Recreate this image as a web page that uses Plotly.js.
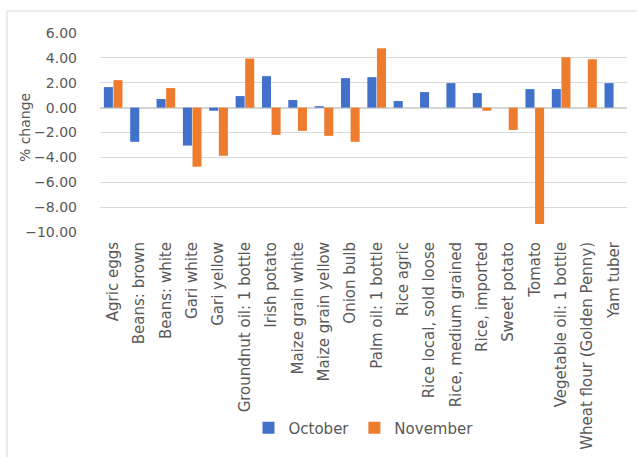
<!DOCTYPE html>
<html>
<head>
<meta charset="utf-8">
<script src="https://cdn.plot.ly/plotly-3.0.1.min.js"></script>
<style>html,body{margin:0;padding:0;background:#fff;}#chart{width:637px;height:457px;}</style>
</head>
<body>
<div id="chart"></div>
<script>
const categories = [
  "Agric eggs", "Beans: brown", "Beans: white", "Gari white", "Gari yellow",
  "Groundnut oil: 1 bottle", "Irish potato", "Maize grain white", "Maize grain yellow",
  "Onion bulb", "Palm oil: 1 bottle", "Rice agric", "Rice local, sold loose",
  "Rice, medium grained", "Rice, imported", "Sweet potato", "Tomato",
  "Vegetable oil: 1 bottle", "Wheat flour (Golden Penny)", "Yam tuber"
];
const october = [1.65, -2.75, 0.69, -3.05, -0.25, 0.93, 2.53, 0.61, 0.12, 2.37, 2.45, 0.53, 1.25, 1.97, 1.17, null, 1.49, 1.49, null, 1.97];
const november = [2.21, null, 1.57, -4.75, -3.87, 3.95, -2.19, -1.87, -2.27, -2.75, 4.77, null, null, null, -0.25, -1.8, -9.35, 4.05, 3.89, null];
const seriesNames = ["October", "November"];
const yTicks = [6, 4, 2, 0, -2, -4, -6, -8, -10];
const yTitle = "% change";

const textColor = "#595959";
const font = "DejaVu Sans, sans-serif";

const traces = [
  {type: "bar", name: seriesNames[0], x: categories, y: october, marker: {color: "#4271CC"}},
  {type: "bar", name: seriesNames[1], x: categories, y: november, marker: {color: "#EE7C2E"}}
];

const layout = {
  width: 637, height: 457,
  margin: {l: 100, r: 10, t: 33, b: 225},
  paper_bgcolor: "#ffffff", plot_bgcolor: "#ffffff",
  font: {family: font, color: textColor, size: 14},
  barmode: "group", bargap: 0.27, bargroupgap: 0.06,
  showlegend: true,
  legend: {orientation: "h", x: 0.50, xanchor: "center", y: -0.985, yanchor: "middle",
           font: {size: 15, color: textColor}, itemwidth: 30, traceorder: "normal"},
  xaxis: {type: "category", tickangle: -90, tickfont: {size: 15, color: textColor}, ticklabelstandoff: 6,
          showgrid: false, zeroline: false, showline: false, ticks: "", automargin: false},
  yaxis: {range: [-10, 6], tickvals: yTicks, tickformat: ".2f",
          tickfont: {size: 14, color: textColor}, ticklabelstandoff: 22,
          showgrid: true, gridcolor: "#d9d9d9", gridwidth: 1,
          zeroline: true, zerolinecolor: "#d4d4d4", zerolinewidth: 2,
          showline: false, ticks: "", automargin: false},
  annotations: [
    {text: yTitle, xref: "paper", yref: "paper", x: -0.142, y: 0.523, xanchor: "center", yanchor: "middle",
     textangle: -90, showarrow: false, font: {size: 14, color: textColor}}
  ],
  shapes: [
    {type: "line", xref: "paper", yref: "paper", x0: -0.1765, x1: 1.2, y0: 1.1106, y1: 1.1106, line: {color: "#d9d9d9", width: 1}},
    {type: "line", xref: "paper", yref: "paper", x0: -0.1765, x1: -0.1765, y0: 1.1106, y1: -1.3, line: {color: "#d9d9d9", width: 1}}
  ]
};

Plotly.newPlot("chart", traces, layout, {displayModeBar: false, staticPlot: true});
</script>
</body>
</html>
